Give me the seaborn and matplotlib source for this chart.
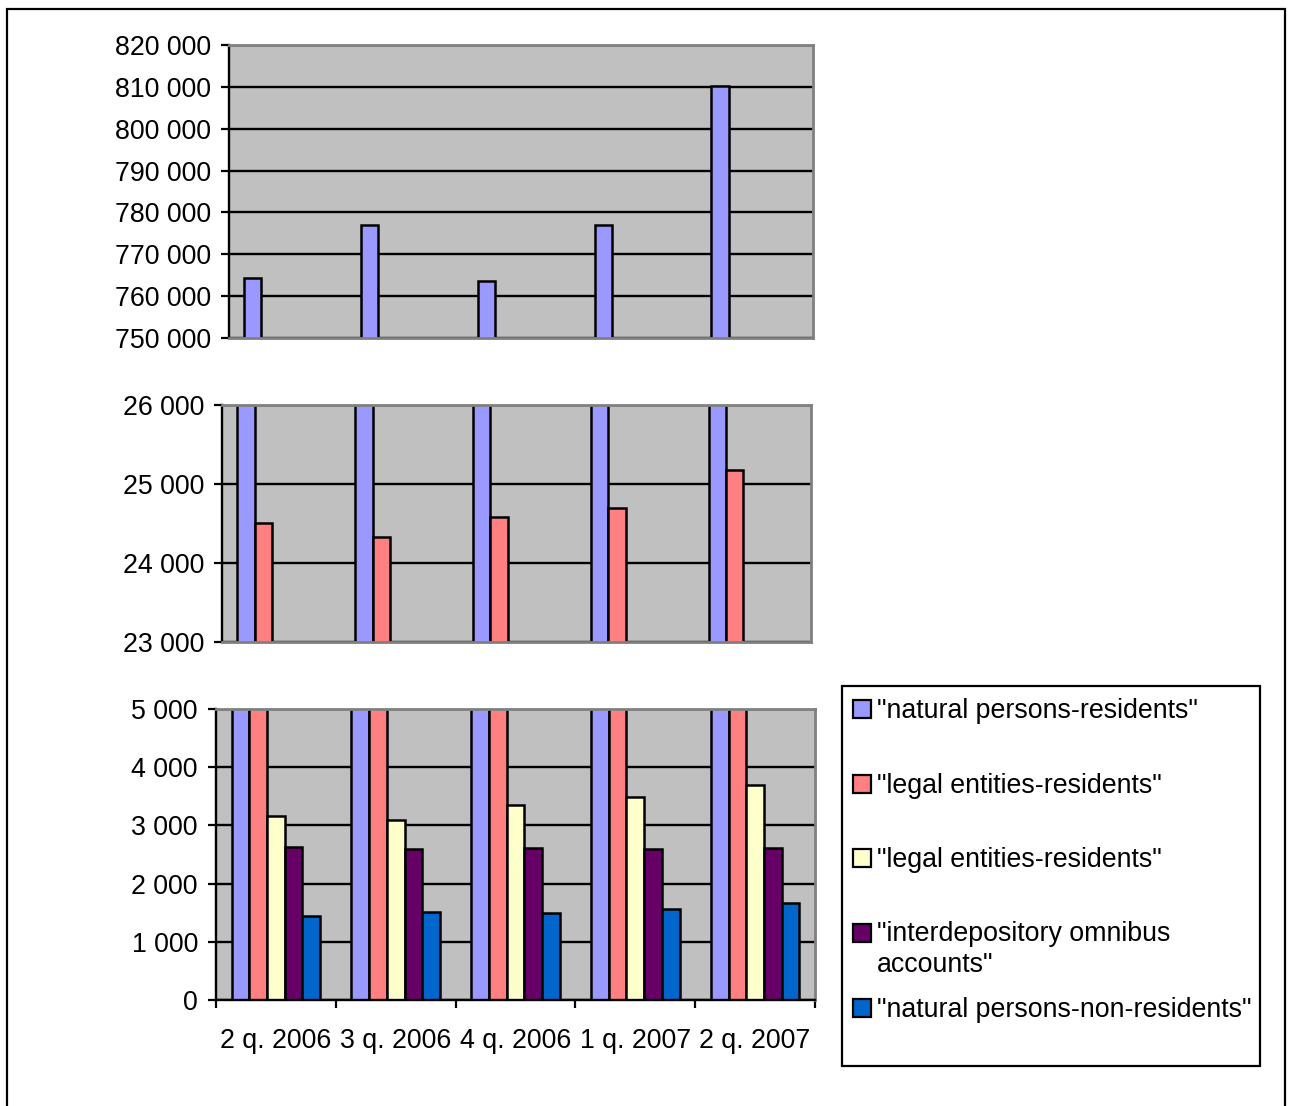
import matplotlib
matplotlib.use("Agg")
import matplotlib.pyplot as plt
from matplotlib.patches import Rectangle
from matplotlib.ticker import FuncFormatter
import numpy as np
import pandas as pd
import seaborn as sns

# Number of accounts by owner type, per quarter
quarters = ["2 q. 2006", "3 q. 2006", "4 q. 2006", "1 q. 2007", "2 q. 2007"]
series_keys = ["natural_res", "legal_res", "legal_res_2", "omnibus", "natural_nonres"]
series_labels = [
    '"natural persons-residents"',
    '"legal entities-residents"',
    '"legal entities-residents"',
    '"interdepository omnibus\naccounts"',
    '"natural persons-non-residents"',
]
natural_residents = [764300, 777000, 763600, 777000, 810200]
legal_residents = [24500, 24330, 24580, 24700, 25180]
legal_residents_2 = [3170, 3090, 3350, 3480, 3690]
omnibus_accounts = [2630, 2600, 2610, 2590, 2610]
natural_non_residents = [1450, 1510, 1500, 1570, 1670]
series_colors = ["#9999FF", "#FF8080", "#FFFFCC", "#660066", "#0066CC"]

values = [natural_residents, legal_residents, legal_residents_2,
          omnibus_accounts, natural_non_residents]
df = pd.DataFrame(
    [(q, key, v[i]) for key, v in zip(series_keys, values) for i, q in enumerate(quarters)],
    columns=["quarter", "series", "value"],
)

plt.rcParams["font.family"] = ["Liberation Sans", "DejaVu Sans"]
FS = 19.3
W, H = 1290, 1106
fig = plt.figure(figsize=(W / 100, H / 100), dpi=100)


def px_rect(x0, y0, x1, y1):
    return [x0 / W, 1 - y1 / H, (x1 - x0) / W, (y1 - y0) / H]


fmt = FuncFormatter(lambda v, _: f"{int(round(v)):,}".replace(",", " "))

# broken value axis: three stacked panels showing different value ranges
panels = [
    (px_rect(229, 45, 813, 338), (750000, 820000), 10000, False),
    (px_rect(222, 405, 811, 642), (23000, 26000), 1000, False),
    (px_rect(216, 709, 815, 1000), (0, 5000), 1000, True),
]

for rect, (lo, hi), step, is_bottom in panels:
    ax = fig.add_axes(rect)
    sns.barplot(
        data=df, x="quarter", y="value", hue="series",
        order=quarters, hue_order=series_keys,
        palette=dict(zip(series_keys, series_colors)), saturation=1,
        width=0.74, gap=0, edgecolor="black", linewidth=1.8,
        legend=False, ax=ax,
    )
    ax.set_xlim(-0.5, 4.5)
    ax.set_ylim(lo, hi)
    ax.set_facecolor("#C0C0C0")
    ax.set_xlabel("")
    ax.set_ylabel("")
    ax.set_yticks(np.arange(lo, hi + step, step))
    ax.yaxis.set_major_formatter(fmt)
    ax.set_axisbelow(True)
    ax.yaxis.grid(True, color="black", linewidth=1.7)
    ax.xaxis.grid(False)
    ax.tick_params(axis="y", direction="out", length=6, width=1.6,
                   color="black", labelsize=FS, pad=7)
    for side in ("top", "right", "bottom"):
        ax.spines[side].set_color("#808080")
        ax.spines[side].set_linewidth(2)
    ax.spines["left"].set_color("black")
    ax.spines["left"].set_linewidth(1.7)
    if is_bottom:
        ax.spines["bottom"].set_color("black")
        ax.spines["bottom"].set_linewidth(1.7)
        ax.set_xticks(range(len(quarters)), quarters)
        ax.set_xticks(np.arange(-0.5, len(quarters)), minor=True)
        ax.tick_params(axis="x", which="major", length=0, labelsize=FS, pad=20)
        ax.tick_params(axis="x", which="minor", direction="out", length=6,
                       width=1.6, color="black")
    else:
        ax.set_xticks([])

# legend box
fig.patches.append(Rectangle((842 / W, 1 - 1066 / H), (1260 - 842) / W, (1066 - 686) / H,
                             transform=fig.transFigure, fill=False,
                             edgecolor="black", linewidth=1.6))
baselines = [718, 793, 867, 942, 1017]
line_step = 30
for label, color, base in zip(series_labels, series_colors, baselines):
    fig.patches.append(Rectangle((853 / W, 1 - base / H), 18 / W, 18 / H,
                                 transform=fig.transFigure, facecolor=color,
                                 edgecolor="black", linewidth=1.6))
    last_base = base + line_step * label.count("\n")
    fig.text(877 / W, 1 - last_base / H, label, ha="left", va="baseline",
             fontsize=FS, linespacing=1.25)

# outer frame
fig.patches.append(Rectangle((7 / W, -0.01), (1285 - 7) / W, 1.01 - 9 / H,
                             transform=fig.transFigure, fill=False,
                             edgecolor="black", linewidth=1.6))

fig.savefig("out.png", dpi=100, facecolor="white")
